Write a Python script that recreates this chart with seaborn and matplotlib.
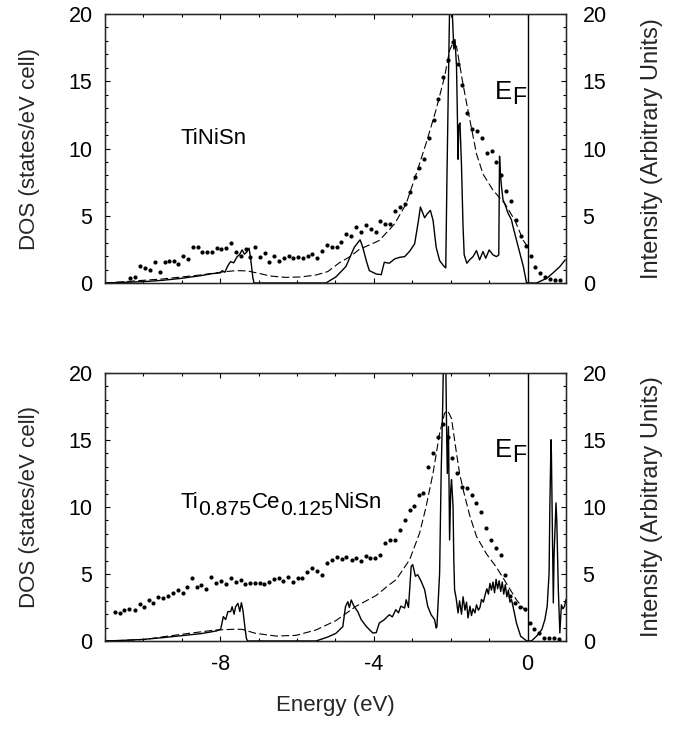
import numpy as np
import pandas as pd
import matplotlib
matplotlib.use("Agg")
import matplotlib.pyplot as plt
from matplotlib.ticker import MultipleLocator
from matplotlib.transforms import offset_copy
import seaborn as sns

# ---------------- data ----------------
# Top panel (TiNiSn)
top_dos_x = [-11.0, -10.5, -10.0, -9.5, -9.0, -8.5, -8.2, -8.0, -7.95, -7.88,
             -7.80, -7.73, -7.65, -7.56, -7.50, -7.43, -7.37, -7.31, -7.25, -7.21,
             -7.15, -7.12, -5.25, -4.99, -4.73, -4.51, -4.36, -4.29, -4.20, -4.12,
             -3.94, -3.81, -3.73, -3.60, -3.46, -3.33, -3.20, -3.07, -2.94, -2.84,
             -2.79, -2.68, -2.61, -2.53, -2.46, -2.38, -2.29, -2.19, -2.13, -2.10,
             -2.06, -2.03, -1.98, -1.96, -1.92, -1.89, -1.85, -1.83, -1.81, -1.79,
             -1.76, -1.72, -1.68, -1.65, -1.58, -1.51, -1.42, -1.33, -1.25, -1.16,
             -1.09, -1.00, -0.90, -0.81, -0.75, -0.73, -0.71, -0.68, -0.64, -0.57,
             -0.51, -0.42, -0.38, -0.29, -0.20, -0.11, -0.03, 0.0, 0.23, 0.50,
             0.67, 0.84, 0.98]
top_dos_y = [0, 0.05, 0.1, 0.2, 0.35, 0.55, 0.7, 0.75, 0.92, 0.8,
             1.3, 1.59, 1.5, 1.96, 2.1, 2.46, 2.14, 2.3, 2.59, 1.84,
             0.37, 0, 0, 0.45, 1.22, 2.66, 3.21, 2.66, 1.67, 0.92,
             0.67, 0.62, 1.54, 1.47, 1.79, 1.91, 1.96, 2.36, 2.91, 4.65,
             5.65, 4.85, 5.15, 5.40, 4.65, 2.66, 1.67, 1.29, 1.12, 7.6,
             15.1, 20.5, 21, 20.1, 17.4, 18.1, 16.1, 12.9, 9.2, 11.7,
             11.9, 8.7, 4.2, 2.09, 1.47, 1.72, 1.96, 2.41, 1.72, 2.34,
             1.84, 2.46, 2.09, 1.96, 2.09, 9.43, 8.2, 7.19, 6.19, 5.7,
             5.2, 4.7, 4.2, 3.2, 2.21, 1.22, 0.05, 0, 0, 0.35,
             0.77, 1.22, 1.72]

top_broad_x = [-11.0, -10.5, -10.0, -9.5, -9.0, -8.5, -8.0, -7.6, -7.3, -7.0,
               -6.7, -6.3, -5.9, -5.5, -5.2, -4.9, -4.6, -4.38, -4.1, -3.86,
               -3.46, -3.16, -2.90, -2.64, -2.38, -2.16, -2.03, -1.95, -1.85, -1.70,
               -1.59, -1.46, -1.33, -1.16, -0.90, -0.59, -0.33, -0.11, 0.0]
top_broad_y = [0.0, 0.1, 0.2, 0.3, 0.45, 0.6, 0.8, 0.92, 0.9, 0.72,
               0.52, 0.42, 0.45, 0.6, 0.85, 1.5, 2.0, 2.5, 2.85, 3.16,
               4.4, 5.9, 8.1, 10.4, 12.9, 15.35, 17.3, 17.8, 17.6, 15.1,
               13.4, 11.5, 9.6, 8.1, 6.9, 5.9, 4.65, 3.16, 2.7]

top_exp_x = [-10.34, -10.23, -10.10, -9.97, -9.84, -9.71, -9.58, -9.45, -9.34, -9.21,
             -9.10, -8.97, -8.84, -8.70, -8.58, -8.47, -8.34, -8.21, -8.08, -7.97,
             -7.85, -7.71, -7.58, -7.47, -7.34, -7.22, -7.09, -6.97, -6.84, -6.72,
             -6.59, -6.47, -6.34, -6.22, -6.10, -5.98, -5.85, -5.72, -5.60, -5.47,
             -5.35, -5.23, -5.10, -4.97, -4.85, -4.72, -4.59, -4.46, -4.33, -4.20,
             -4.07, -3.95, -3.83, -3.70, -3.57, -3.45, -3.32, -3.20, -3.07, -2.94,
             -2.82, -2.70, -2.57, -2.44, -2.32, -2.19, -2.06, -1.94, -1.82, -1.70,
             -1.57, -1.44, -1.31, -1.18, -1.05, -0.92, -0.81, -0.68, -0.55, -0.42,
             -0.31, -0.17, -0.05, 0.08, 0.20, 0.32, 0.45, 0.58, 0.71, 0.84]
top_exp_y = [0.40, 0.47, 1.29, 1.09, 0.97, 1.54, 0.82, 1.59, 1.64, 1.64,
             1.42, 2.01, 1.77, 2.64, 2.69, 2.34, 2.34, 2.31, 2.59, 2.51,
             2.59, 2.96, 2.29, 2.01, 2.54, 1.92, 2.71, 1.92, 2.21, 1.54,
             2.01, 1.67, 1.89, 2.01, 1.89, 1.92, 1.84, 2.01, 2.16, 1.84,
             2.41, 2.84, 2.71, 2.69, 3.08, 3.66, 3.53, 4.15, 3.78, 4.28,
             4.03, 3.78, 4.60, 4.40, 4.40, 5.35, 5.65, 5.90, 6.77, 7.89,
             8.58, 9.25, 10.75, 12.11, 13.66, 15.35, 16.6, 17.9, 16.3, 14.7,
             12.66, 11.47, 11.29, 10.80, 9.63, 9.80, 9.00, 8.06, 6.81, 6.07,
             4.65, 3.46, 2.76, 2.01, 1.22, 0.77, 0.47, 0.27, 0.20, 0.20]

# Bottom panel (Ti0.875Ce0.125NiSn)
bot_dos_x = [-11.0, -10.5, -10.0, -9.5, -9.0, -8.5, -8.1, -7.99, -7.92, -7.86,
             -7.80, -7.73, -7.69, -7.64, -7.60, -7.54, -7.49, -7.45, -7.41, -7.36,
             -7.32, -7.29, -5.51, -5.2, -4.99, -4.81, -4.74, -4.68, -4.64, -4.59,
             -4.52, -4.42, -4.33, -4.20, -4.03, -3.94, -3.86, -3.73, -3.60, -3.52,
             -3.43, -3.36, -3.30, -3.20, -3.16, -3.10, -3.03, -2.99, -2.92, -2.86,
             -2.77, -2.68, -2.60, -2.51, -2.42, -2.38, -2.36, -2.29, -2.25, -2.21,
             -2.19, -2.16, -2.13, -2.11, -2.09, -2.06, -2.03, -2.00, -1.98, -1.94,
             -1.92, -1.90, -1.86, -1.81, -1.77, -1.72, -1.68, -1.63, -1.59, -1.55,
             -1.50, -1.46, -1.42, -1.37, -1.33, -1.28, -1.24, -1.20, -1.15, -1.11,
             -1.06, -1.02, -0.98, -0.94, -0.90, -0.86, -0.82, -0.78, -0.74, -0.70,
             -0.66, -0.62, -0.58, -0.54, -0.50, -0.46, -0.42, -0.38, -0.29, -0.18,
             -0.02, 0.10, 0.23, 0.37, 0.45, 0.51, 0.56, 0.58, 0.61, 0.62,
             0.65, 0.67, 0.69, 0.74, 0.76, 0.80, 0.84, 0.88, 0.92, 0.96,
             1.0]
bot_dos_y = [0, 0.05, 0.12, 0.25, 0.4, 0.55, 0.75, 0.87, 1.82, 1.6,
             2.2, 2.19, 2.56, 2.0, 2.56, 2.81, 2.2, 2.86, 2.31, 1.07,
             0.2, 0, 0, 0.3, 0.57, 1.07, 2.56, 2.93, 2.5, 3.06,
             2.6, 2.19, 1.59, 1.09, 0.6, 0.62, 1.34, 1.59, 1.96, 1.8,
             2.34, 2.1, 2.6, 2.46, 3.08, 2.5, 5.57, 5.70, 4.83, 4.95,
             4.45, 3.83, 2.59, 1.96, 1.59, 0.97, 1.07, 5.05, 12.5, 17.5,
             21, 22, 21, 16.2, 12.5, 16.0, 7.54, 11.3, 12.04, 10.05,
             6.0, 3.83, 3.2, 2.09, 3.0, 2.0, 3.3, 2.3, 2.9, 1.72,
             2.6, 1.9, 2.4, 2.1, 2.7, 2.3, 2.5, 3.1, 2.9, 3.4,
             3.9, 3.5, 4.3, 3.8, 4.4, 3.6, 4.6, 3.9, 4.5, 3.7,
             4.4, 3.5, 4.2, 3.3, 3.8, 2.9, 3.1, 2.59, 1.34, 0.35,
             0, 0, 0.35, 0.85, 1.59, 2.59, 5.07, 10.05, 15.02, 14.0,
             7.56, 2.84, 6.5, 10.3, 9.0, 3.83, 0.6, 2.7, 2.4, 2.59,
             3.1]

bot_broad_x = [-11.0, -10.5, -9.95, -9.4, -8.82, -8.12, -7.6, -7.43, -7.08, -6.55,
               -6.03, -5.51, -4.99, -4.46, -3.94, -3.6, -3.42, -3.07, -2.81, -2.64,
               -2.46, -2.29, -2.16, -2.08, -1.98, -1.86, -1.77, -1.66, -1.51, -1.33,
               -1.07, -0.81, -0.55, -0.29, -0.04]
bot_broad_y = [0.0, 0.05, 0.12, 0.35, 0.57, 0.82, 0.88, 0.87, 0.57, 0.37,
               0.42, 0.82, 1.52, 2.6, 3.4, 4.2, 4.58, 6.07, 8.06, 10.05,
               12.54, 15.5, 17.0, 17.2, 16.6, 14.2, 12.5, 11.1, 9.4, 7.8,
               6.5, 5.5, 4.3, 3.07, 2.2]

bot_exp_x = [-10.73, -10.62, -10.50, -10.37, -10.23, -10.10, -9.99, -9.86, -9.75, -9.62,
             -9.50, -9.37, -9.24, -9.10, -8.98, -8.86, -8.73, -8.60, -8.49, -8.36,
             -8.25, -8.11, -7.99, -7.86, -7.73, -7.60, -7.47, -7.36, -7.22, -7.10,
             -6.97, -6.86, -6.73, -6.60, -6.48, -6.36, -6.23, -6.10, -5.97, -5.86,
             -5.74, -5.61, -5.48, -5.35, -5.23, -5.10, -4.97, -4.84, -4.72, -4.58,
             -4.46, -4.33, -4.20, -4.09, -3.96, -3.84, -3.71, -3.58, -3.46, -3.33,
             -3.20, -3.07, -2.95, -2.83, -2.71, -2.59, -2.46, -2.33, -2.20, -2.08,
             -1.96, -1.84, -1.70, -1.58, -1.45, -1.33, -1.20, -1.08, -0.96, -0.83,
             -0.70, -0.58, -0.45, -0.33, -0.20, -0.08, 0.05, 0.18, 0.30, 0.43,
             0.56, 0.69, 0.83]
bot_exp_y = [2.19, 2.07, 2.31, 2.36, 2.31, 2.74, 2.56, 3.06, 2.81, 3.31,
             3.23, 3.36, 3.56, 3.81, 3.56, 4.05, 4.68, 4.05, 4.18, 3.86,
             4.80, 4.30, 4.48, 4.25, 4.68, 4.43, 4.55, 4.25, 4.30, 4.30,
             4.30, 4.25, 4.43, 4.60, 4.68, 4.50, 4.80, 4.43, 4.73, 4.68,
             5.17, 5.42, 5.25, 4.93, 5.85, 6.04, 6.24, 6.09, 6.24, 6.07,
             6.19, 5.95, 6.32, 6.19, 6.19, 6.44, 7.31, 7.51, 7.56, 8.31,
             9.05, 9.80, 10.05, 10.92, 11.07, 13.0, 14.0, 15.26, 16.2, 15.2,
             13.63, 12.51, 11.52, 11.39, 10.90, 10.27, 9.60, 8.42, 7.52, 6.93,
             6.43, 4.94, 3.35, 2.82, 2.56, 2.36, 1.32, 0.93, 0.57, 0.25,
             0.20, 0.20, 0.15]

# text pieces: (string, is_subscript)
label_top = [("TiNiSn", False)]
label_bot = [("Ti", False), ("0.875", True), ("Ce", False), ("0.125", True), ("NiSn", False)]
label_ef = [("E", False), ("F", True)]
x_ticks = [-8, -4, 0]
y_ticks = [0, 5, 10, 15, 20]

# ---------------- style ----------------
sns.set_style("ticks")
plt.rcParams["font.family"] = ["Liberation Sans", "DejaVu Sans"]
plt.rcParams["axes.unicode_minus"] = False

W, H = 678, 743
fig = plt.figure(figsize=(W / 100, H / 100), dpi=100)
renderer = fig.canvas.get_renderer()


def frac_box(left, top, right, bottom):
    return [left / W, 1 - bottom / H, (right - left) / W, (bottom - top) / H]


def draw_formula(ax, x, y, pieces, fs, sub_scale, sub_drop, align="left"):
    items = []
    for s, sub in pieces:
        t = ax.text(x, y, s, fontsize=fs * (sub_scale if sub else 1.0),
                    ha="left", va="baseline", color="black")
        w = t.get_window_extent(renderer).width
        items.append((t, sub, w))
    total = sum(w for _, _, w in items)
    cum = -total if align == "right" else 0.0
    for t, sub, w in items:
        t.set_transform(offset_copy(ax.transData, fig=fig, x=cum,
                                    y=-sub_drop if sub else 0, units="dots"))
        cum += w


ax_top = fig.add_axes(frac_box(105, 14, 566, 283))
ax_bot = fig.add_axes(frac_box(105, 373, 566, 641))

panels = [
    (ax_top, top_dos_x, top_dos_y, top_broad_x, top_broad_y, top_exp_x, top_exp_y,
     label_top, 10.3, 13.66),
    (ax_bot, bot_dos_x, bot_dos_y, bot_broad_x, bot_broad_y, bot_exp_x, bot_exp_y,
     label_bot, 9.9, 13.7),
]

for i, (ax, dx, dy, bx, by, ex, ey, lab, lab_y, ef_y) in enumerate(panels):
    df_dos = pd.DataFrame({"E": dx, "DOS": dy})
    df_broad = pd.DataFrame({"E": bx, "DOS": by})
    df_exp = pd.DataFrame({"E": ex, "I": ey})

    sns.lineplot(data=df_dos, x="E", y="DOS", ax=ax, color="black", lw=1.0,
                 sort=False, estimator=None)
    sns.lineplot(data=df_broad, x="E", y="DOS", ax=ax, color="black", lw=0.8,
                 sort=False, estimator=None, linestyle=(0, (7, 3)))
    sns.scatterplot(data=df_exp, x="E", y="I", ax=ax, color="black", s=9,
                    linewidth=0, marker="o")
    ax.axvline(0, color="black", lw=1.0)

    ax.set_xlim(-11, 1)
    ax.set_ylim(0, 20)
    ax.set_xticks(x_ticks)
    ax.set_yticks(y_ticks)
    ax.xaxis.set_minor_locator(MultipleLocator(1))
    ax.yaxis.set_minor_locator(MultipleLocator(1))
    ax.set_xlabel("")
    ax.set_ylabel("")
    for sp in ax.spines.values():
        sp.set_visible(True)
        sp.set_linewidth(1.0)
        sp.set_color("black")
    ax.tick_params(which="both", direction="in", top=True, right=False,
                   labelsize=15.5, colors="black", pad=9)
    ax.tick_params(which="major", length=3.5, width=0.8)
    ax.tick_params(which="minor", length=2.5, width=0.8)
    if i == 0:
        ax.tick_params(labelbottom=False)

    ax2 = ax.twinx()
    ax2.set_ylim(0, 20)
    ax2.set_yticks(y_ticks)
    ax2.yaxis.set_minor_locator(MultipleLocator(1))
    ax2.tick_params(which="both", direction="in", labelsize=15.5, pad=12,
                    colors="black")
    ax2.tick_params(which="major", length=3.5, width=0.8)
    ax2.tick_params(which="minor", length=2.5, width=0.8)

    draw_formula(ax, -9.03, lab_y, lab, 16, 0.95, 7)
    draw_formula(ax, -0.04, ef_y, label_ef, 18.5, 0.9, 5, align="right")

# axis titles
for cy in [148.5, 507]:
    fig.text(30 / W, 1 - cy / H, "DOS (states/eV cell)", rotation=90,
             ha="center", va="center", fontsize=16)
    fig.text(652 / W, 1 - cy / H, "Intensity (Arbitrary Units)", rotation=90,
             ha="center", va="center", fontsize=17)
fig.text(335 / W, 1 - 705 / H, "Energy (eV)", ha="center", va="center",
         fontsize=16)

fig.savefig("out.png", dpi=100)
